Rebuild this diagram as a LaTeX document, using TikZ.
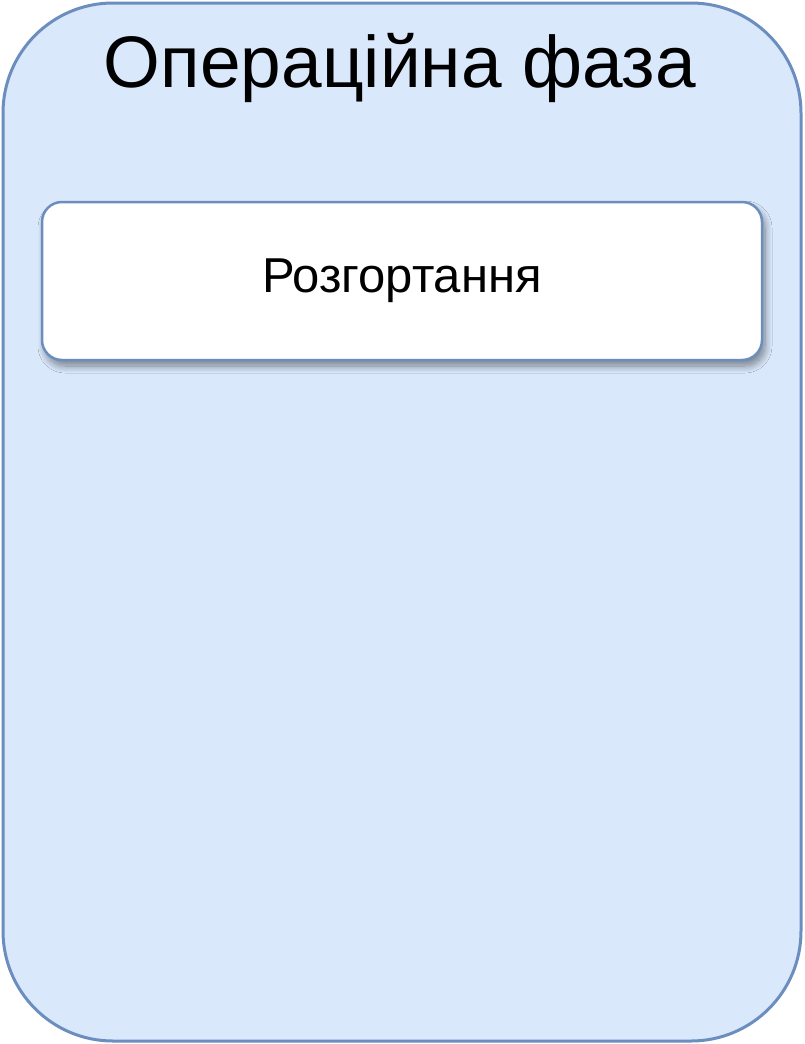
\documentclass[tikz,border=0pt]{standalone}
\usepackage{fontspec}
\setmainfont{Liberation Sans}
\usetikzlibrary{positioning,shadows.blur}
\definecolor{phasefill}{HTML}{DAE8FC}
\definecolor{phaseline}{HTML}{6C8EBF}
\tikzset{x=1pt, y=1pt,
phase/.style={draw=phaseline, fill=phasefill, line width=3pt, rounded corners=110pt, minimum width=798pt, minimum height=1038pt}, % the outer phase box
stepbox/.style={draw=phaseline, fill=white, line width=2.5pt, rounded corners=20pt, minimum width=720pt, minimum height=158pt,
  blur shadow={shadow xshift=3pt, shadow yshift=-6pt, shadow blur radius=7pt, shadow blur steps=12, shadow opacity=45}}, % one step inside the phase
title/.style={font=\fontsize{73}{82}\selectfont},
steptext/.style={font=\fontsize{49}{58}\selectfont},
}
\begin{document}
\begin{tikzpicture}
\useasboundingbox (0,0) rectangle (804,-1044);
\node[phase] (op) at (402,-522) {};
\node[title] (optitle) at (400,-68) {Операційна фаза};

\node[stepbox] (deploy) at (402,-281) {};
\node[steptext] at (deploy) {Розгортання};

\end{tikzpicture}
\end{document}
